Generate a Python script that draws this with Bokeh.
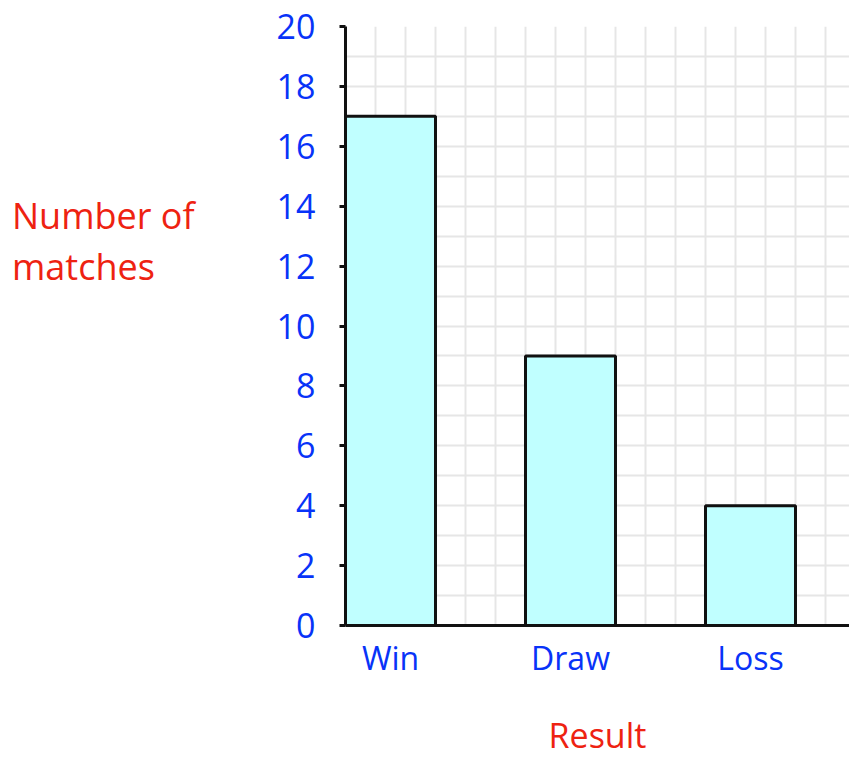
from bokeh.plotting import figure
from bokeh.models import Range1d, FixedTicker, SingleIntervalTicker, Div
from bokeh.layouts import row
from bokeh.embed import file_html
from bokeh.resources import INLINE

categories = ["Win", "Draw", "Loss"]
counts = [17, 9, 4]
y_ticks = list(range(0, 21, 2))
y_title_lines = ["Number of", "matches"]
x_title = "Result"

FONT = "Open Sans"
BLUE = "#0833f8"
RED = "#ee2211"

W, H = 849, 760
DIV_W = 250
LEFT, TOP, BOTTOM = 345 - DIV_W, 26, 135

bar_w = 3
gap = 6
centers = [bar_w / 2 + gap * i for i in range(len(categories))]

p = figure(width=W - DIV_W, height=H, output_backend="svg", toolbar_location=None,
           x_range=Range1d(0, (W - 345) / 30), y_range=Range1d(0, 20),
           min_border_left=LEFT, min_border_right=0, min_border_top=TOP,
           min_border_bottom=BOTTOM, title=None, margin=0)
p.outline_line_color = None
p.background_fill_color = "white"

# grid
p.xgrid.ticker = SingleIntervalTicker(interval=1)
p.ygrid.ticker = SingleIntervalTicker(interval=1)
for g in (p.xgrid, p.ygrid):
    g.grid_line_color = "#e6e6e6"
    g.grid_line_width = 2

p.vbar(x=centers, top=counts, width=bar_w, bottom=0,
       fill_color="#c0ffff", line_color="#111111", line_width=3)

# y axis
ya = p.yaxis[0]
ya.ticker = FixedTicker(ticks=y_ticks)
ya.axis_line_width = 3
ya.axis_line_color = "#111111"
ya.major_tick_line_width = 3
ya.major_tick_line_color = "#111111"
ya.major_tick_in = 0
ya.major_tick_out = 6
ya.minor_tick_line_color = None
ya.major_label_text_font = FONT
ya.major_label_text_font_size = "34px"
ya.major_label_text_color = BLUE
ya.major_label_standoff = 24

# x axis
xa = p.xaxis[0]
xa.ticker = FixedTicker(ticks=centers)
xa.major_label_overrides = {c: n for c, n in zip(centers, categories)}
xa.axis_line_width = 3
xa.axis_line_color = "#111111"
xa.major_tick_line_color = None
xa.minor_tick_line_color = None
xa.major_label_text_font = FONT
xa.major_label_text_font_size = "32px"
xa.major_label_text_color = BLUE
xa.major_label_standoff = 4
xa.axis_label = x_title
xa.axis_label_text_font = FONT
xa.axis_label_text_font_size = "34px"
xa.axis_label_text_font_style = "normal"
xa.axis_label_text_color = RED
xa.axis_label_standoff = 30

div = Div(
    text=('<div style="font-family: \'Open Sans\'; font-size: 36px; '
          'line-height: 51px; color: %s; padding: 190px 0 0 12px; '
          'white-space: nowrap;">%s</div>') % (RED, "<br>".join(y_title_lines)),
    width=DIV_W, height=H, margin=0)

layout = row(div, p, spacing=0)
open("out.html", "w").write(file_html(layout, INLINE))
